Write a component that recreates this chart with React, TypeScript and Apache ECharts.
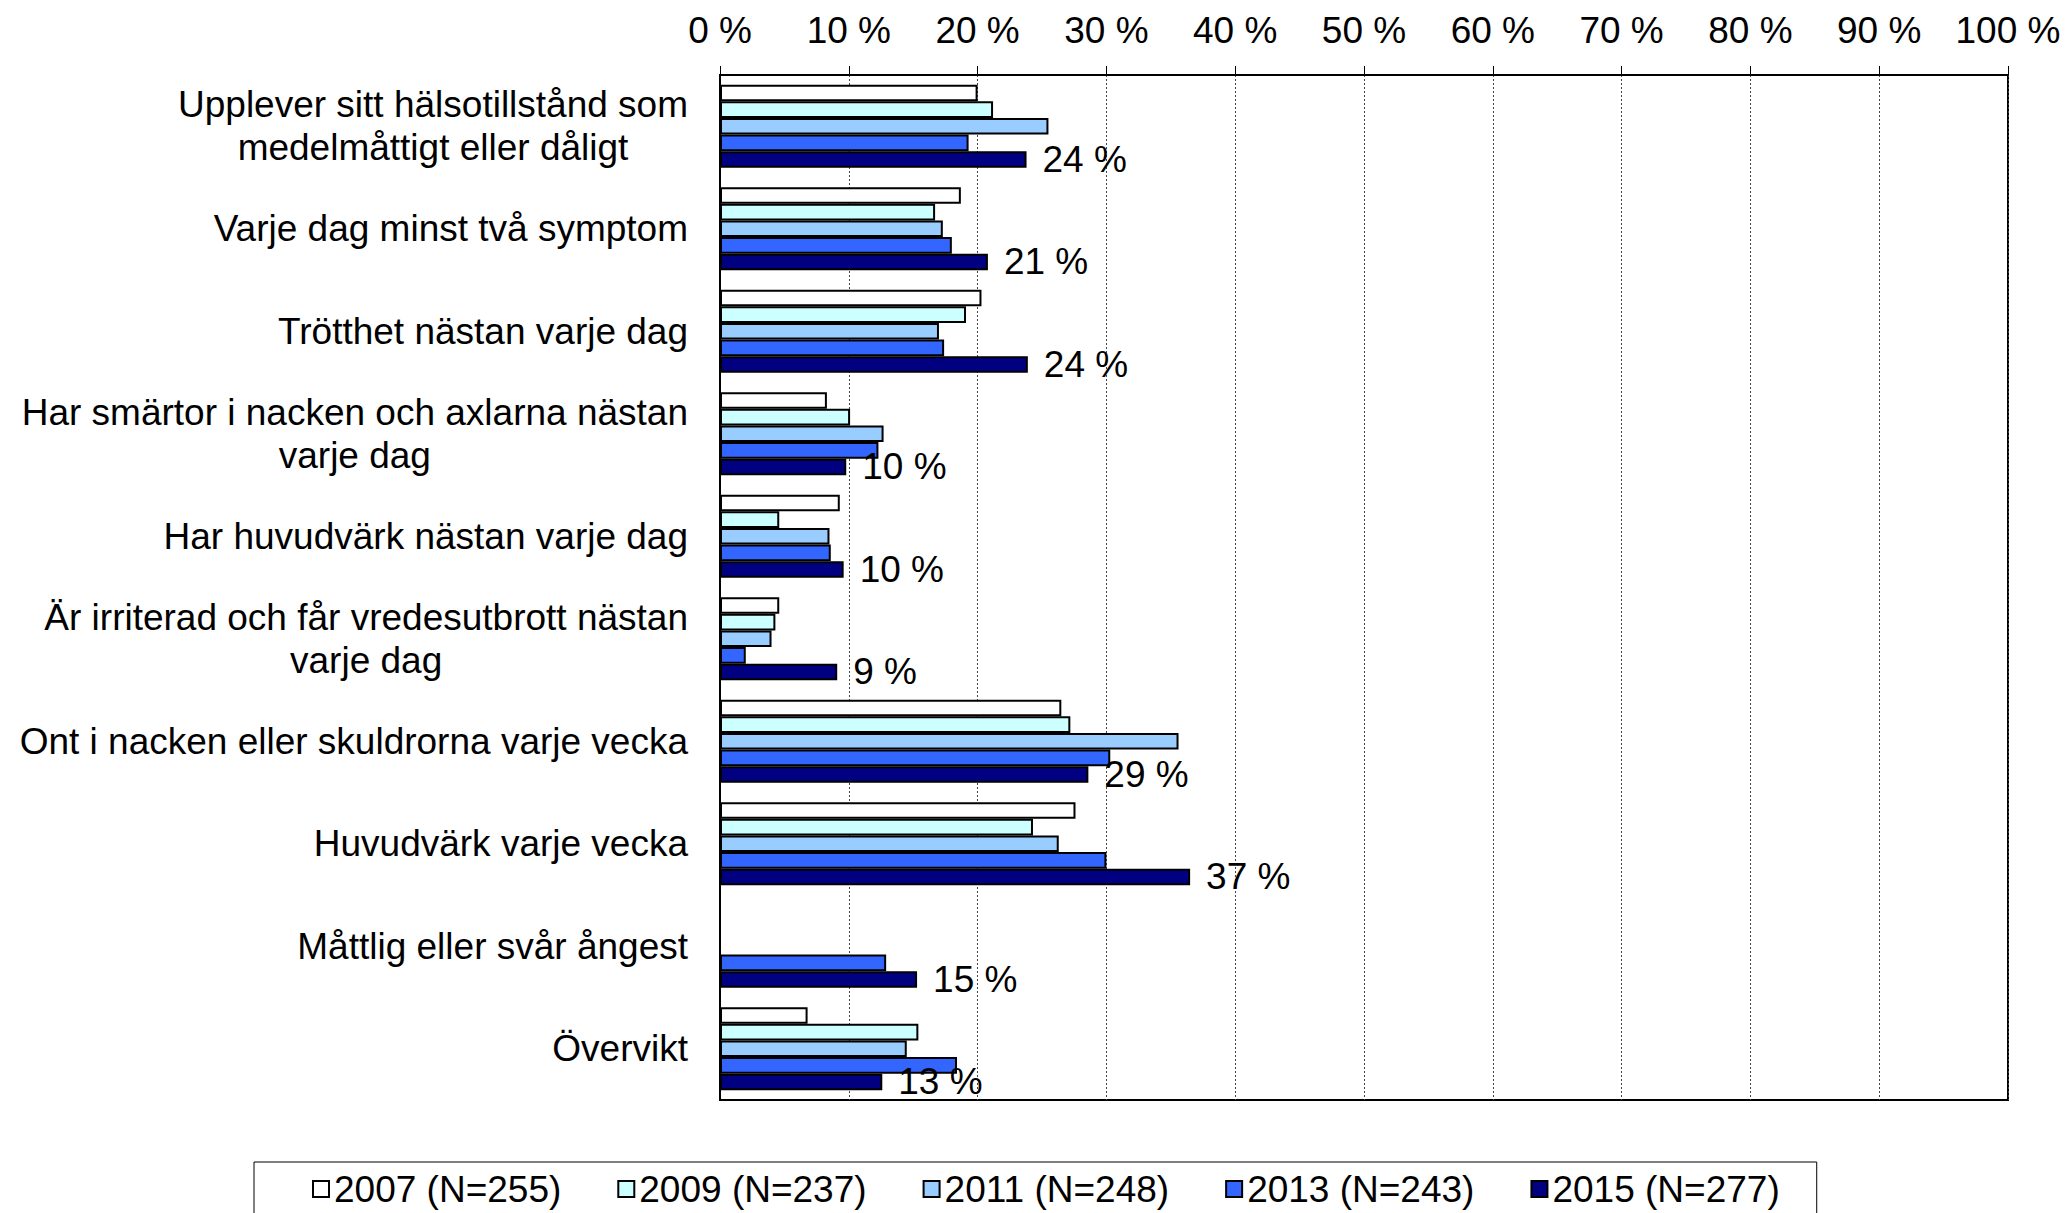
import React, { useEffect, useRef } from "react";
import * as echarts from "echarts";

const categories = [
  "Upplever sitt hälsotillstånd som\nmedelmåttigt eller dåligt",
  "Varje dag minst två symptom",
  "Trötthet nästan varje dag",
  "Har smärtor i nacken och axlarna nästan\nvarje dag",
  "Har huvudvärk nästan varje dag",
  "Är irriterad och får vredesutbrott nästan\nvarje dag",
  "Ont i nacken eller skuldrorna varje vecka",
  "Huvudvärk varje vecka",
  "Måttlig eller svår ångest",
  "Övervikt",
];

const seriesNames = [
  "2007 (N=255)",
  "2009 (N=237)",
  "2011 (N=248)",
  "2013 (N=243)",
  "2015 (N=277)",
];

const values2007 = [20.0, 18.7, 20.3, 8.3, 9.3, 4.6, 26.5, 27.6, null, 6.8];
const values2009 = [21.2, 16.7, 19.1, 10.1, 4.6, 4.3, 27.2, 24.3, null, 15.4];
const values2011 = [25.5, 17.3, 17.0, 12.7, 8.5, 4.0, 35.6, 26.3, null, 14.5];
const values2013 = [19.3, 18.0, 17.4, 12.3, 8.6, 2.0, 30.3, 30.0, 12.9, 18.4];
const values2015 = [23.8, 20.8, 23.9, 9.8, 9.6, 9.1, 28.6, 36.5, 15.3, 12.6];

const xTicks = [0, 10, 20, 30, 40, 50, 60, 70, 80, 90, 100];

const colors = ["#FFFFFF", "#CCFFFF", "#99CCFF", "#3366FF", "#000080"];

const FONT = "'Liberation Sans', Arial, sans-serif";

export default function App() {
  const ref = useRef<HTMLDivElement>(null);

  useEffect(() => {
    if (!ref.current) return;
    const chart = echarts.init(ref.current, null, { renderer: "svg" });
    const allValues = [values2007, values2009, values2011, values2013, values2015];
    const series = allValues.map((vals, i) => ({
      name: seriesNames[i],
      type: "bar",
      data: vals.map((v) => (v === null ? "-" : v)),
      barGap: "0%",
      barCategoryGap: "19%",
      itemStyle: {
        color: colors[i],
        borderColor: "#000",
        borderWidth: 2,
      },
      label:
        i === 4
          ? {
              show: true,
              position: "right",
              distance: 16,
              fontFamily: FONT,
              fontSize: 37,
              color: "#000",
              formatter: (p: any) => `${Math.round(p.value)} %`,
            }
          : { show: false },
    }));

    chart.setOption({
      animation: false,
      backgroundColor: "#fff",
      textStyle: { fontFamily: FONT },
      grid: {
        left: 720,
        right: 57,
        top: 75,
        bottom: 113,
        show: true,
        borderColor: "#000",
        borderWidth: 2,
        containLabel: false,
      },
      legend: {
        left: 254,
        top: 1162,
        orient: "horizontal",
        icon: "rect",
        itemWidth: 16,
        itemHeight: 16,
        itemGap: 56,
        padding: [6, 37, 22, 58],
        borderColor: "#000",
        borderWidth: 1,
        textStyle: { fontFamily: FONT, fontSize: 37, color: "#000", lineHeight: 42 },
        data: seriesNames,
      },
      xAxis: {
        type: "value",
        position: "top",
        min: xTicks[0],
        max: xTicks[xTicks.length - 1],
        interval: 10,
        axisLine: { show: true, lineStyle: { color: "#000", width: 2 } },
        axisTick: { show: true, inside: false, length: 9, lineStyle: { color: "#000", width: 1 } },
        axisLabel: {
          show: true,
          margin: 26,
          fontFamily: FONT,
          fontSize: 37,
          color: "#000",
          formatter: (v: number) => `${v} %`,
        },
        splitLine: {
          show: true,
          lineStyle: { color: "#444", width: 1, type: [2, 2] },
        },
      },
      yAxis: {
        type: "category",
        inverse: true,
        data: categories,
        axisLine: { show: true, lineStyle: { color: "#000", width: 2 } },
        axisTick: { show: false },
        axisLabel: {
          margin: 32,
          fontFamily: FONT,
          fontSize: 37,
          lineHeight: 43,
          color: "#000",
          align: "right",
          formatter: (v: string) =>
            v
              .split("\n")
              .map((line) => `{c|${line}}`)
              .join("\n"),
          rich: {
            c: {
              align: "center",
              fontFamily: FONT,
              fontSize: 37,
              lineHeight: 43,
              color: "#000",
            },
          },
        },
        splitLine: { show: false },
      },
      series,
    });
    return () => chart.dispose();
  }, []);

  return (
    <div
      ref={ref}
      style={{ position: "absolute", left: 0, top: 0, width: 2065, height: 1213 }}
    />
  );
}
